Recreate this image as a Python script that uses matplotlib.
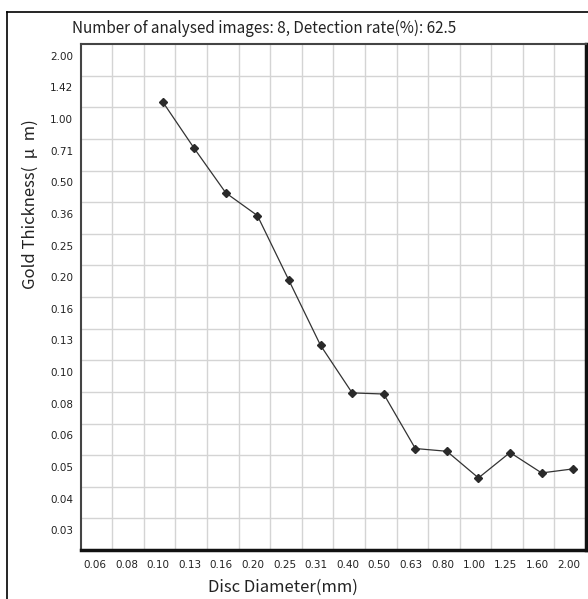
import numpy as np
import matplotlib
matplotlib.use("Agg")
import matplotlib.pyplot as plt
from matplotlib.lines import Line2D
from matplotlib.ticker import FixedLocator, NullFormatter
from matplotlib.transforms import ScaledTranslation

# category labels on both axes (the grid is one cell per label)
x_labels = [0.06, 0.08, 0.10, 0.13, 0.16, 0.20, 0.25, 0.31,
            0.40, 0.50, 0.63, 0.80, 1.00, 1.25, 1.60, 2.00]
y_labels = [0.03, 0.04, 0.05, 0.06, 0.08, 0.10, 0.13, 0.16,
            0.20, 0.25, 0.36, 0.50, 0.71, 1.00, 1.42, 2.00]

# measured thickness per disc diameter
diameter = [0.10, 0.13, 0.16, 0.20, 0.25, 0.31, 0.40,
            0.50, 0.63, 0.80, 1.00, 1.25, 1.60, 2.00]
thickness = [1.267, 0.760, 0.467, 0.369, 0.201, 0.129, 0.0888,
             0.0881, 0.0569, 0.0560, 0.0476, 0.0556, 0.0493, 0.0506]

title = "Number of analysed images: 8, Detection rate(%): 62.5"


def cell_scale(vals):
    # log-interpolated scale that puts every label in the middle of one cell
    lv = np.log(np.asarray(vals, dtype=float))
    pos = np.arange(len(vals)) + 0.5

    def fwd(v):
        v = np.log(np.clip(np.asarray(v, dtype=float), 1e-9, None))
        out = np.interp(v, lv, pos)
        out = np.where(v < lv[0], pos[0] + (v - lv[0]) / (lv[1] - lv[0]), out)
        out = np.where(v > lv[-1], pos[-1] + (v - lv[-1]) / (lv[-1] - lv[-2]), out)
        return out

    def inv(p):
        p = np.asarray(p, dtype=float)
        out = np.interp(p, pos, lv)
        out = np.where(p < pos[0], lv[0] + (p - pos[0]) * (lv[1] - lv[0]), out)
        out = np.where(p > pos[-1], lv[-1] + (p - pos[-1]) * (lv[-1] - lv[-2]), out)
        return np.exp(out)

    return fwd, inv


W, H = 588, 599
fig = plt.figure(figsize=(W / 100, H / 100), dpi=100)
ax = fig.add_axes([80.7 / W, 1 - 550 / H, (586 - 80.7) / W, (550 - 44) / H])

xf, xi = cell_scale(x_labels)
yf, yi = cell_scale(y_labels)
ax.set_xscale("function", functions=(xf, xi))
ax.set_yscale("function", functions=(yf, yi))
ax.set_xlim(xi(0.0), xi(16.0))
ax.set_ylim(yi(0.0), yi(16.0))

ax.xaxis.set_major_locator(FixedLocator(x_labels))
ax.yaxis.set_major_locator(FixedLocator(y_labels))
ax.set_xticklabels([f"{v:.2f}" for v in x_labels])
ax.set_yticklabels([f"{v:.2f}" for v in y_labels])
ax.xaxis.set_minor_locator(FixedLocator(list(xi(np.arange(1, 16)))))
ax.yaxis.set_minor_locator(FixedLocator(list(yi(np.arange(1, 16)))))
ax.xaxis.set_minor_formatter(NullFormatter())
ax.yaxis.set_minor_formatter(NullFormatter())
ax.tick_params(which="both", length=0)
ax.tick_params(axis="x", labelsize=7.5, pad=7.5, colors="#222222")
ax.tick_params(axis="y", labelsize=7.5, pad=5.5, colors="#222222")
ax.grid(which="minor", color="#d4d4d4", linewidth=1.0)
ax.set_axisbelow(True)

# nudge labels a bit like the original rendering
for lab in ax.get_yticklabels():
    lab.set_transform(lab.get_transform() + ScaledTranslation(0, 4 / 100, fig.dpi_scale_trans))
for lab in ax.get_xticklabels():
    lab.set_transform(lab.get_transform() + ScaledTranslation(-1.5 / 100, 0, fig.dpi_scale_trans))

line, = ax.plot(diameter, thickness, color="#333333", linewidth=0.9,
                marker="D", markersize=4.5, markerfacecolor="#2a2a2a",
                markeredgecolor="#2a2a2a")
line.set_transform(line.get_transform() + ScaledTranslation(3 / 100, 0, fig.dpi_scale_trans))

for side in ["top", "left"]:
    ax.spines[side].set_color("#444444")
    ax.spines[side].set_linewidth(1.5)
for side in ["bottom", "right"]:
    ax.spines[side].set_color("#111111")
    ax.spines[side].set_linewidth(2.5)

jp = ["Noto Sans CJK JP", "DejaVu Sans"]
fig.text(72 / W, 1 - 28 / H, title, ha="left", va="center", fontsize=11,
         family=jp, color="#222222")
fig.text(283 / W, 1 - 587 / H, "Disc Diameter(mm)", ha="center", va="center",
         fontsize=12, family=jp, color="#222222")
fig.text(30 / W, 1 - 204 / H, "Gold Thickness(  μ  m)", ha="center", va="center",
         rotation=90, fontsize=12, family=jp, color="#222222")

# outer frame of the exported picture
fig.add_artist(Line2D([7 / W, 7 / W], [0, 1 - 12 / H], color="black", linewidth=1.2))
fig.add_artist(Line2D([7 / W, 1], [1 - 12 / H, 1 - 12 / H], color="black", linewidth=1.2))

fig.savefig("out.png", dpi=100)
